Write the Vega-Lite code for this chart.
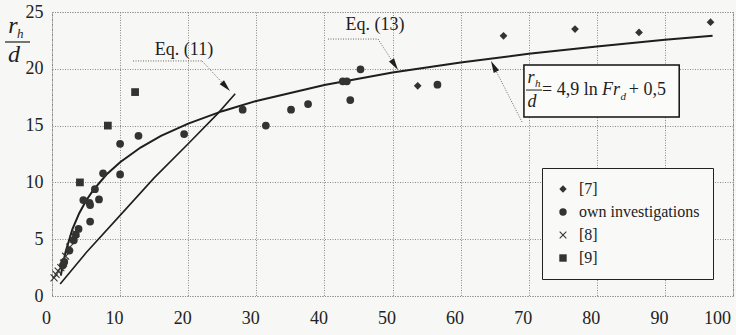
{
  "$schema": "https://vega.github.io/schema/vega-lite/v6.json",
  "width": 681,
  "height": 284,
  "autosize": {"type": "none"},
  "padding": {"left": 52, "top": 12, "right": 3, "bottom": 39},
  "datasets": {
    "points": [
      {"Fr": 53.7, "rh": 18.5, "source": "[7]"},
      {"Fr": 66.3, "rh": 22.9, "source": "[7]"},
      {"Fr": 76.8, "rh": 23.5, "source": "[7]"},
      {"Fr": 86.2, "rh": 23.2, "source": "[7]"},
      {"Fr": 96.7, "rh": 24.1, "source": "[7]"},
      {"Fr": 1.6, "rh": 2.7, "source": "own investigations"},
      {"Fr": 1.8, "rh": 3.0, "source": "own investigations"},
      {"Fr": 2.55, "rh": 4.0, "source": "own investigations"},
      {"Fr": 3.2, "rh": 4.9, "source": "own investigations"},
      {"Fr": 3.5, "rh": 5.4, "source": "own investigations"},
      {"Fr": 3.9, "rh": 5.9, "source": "own investigations"},
      {"Fr": 5.6, "rh": 6.55, "source": "own investigations"},
      {"Fr": 4.6, "rh": 8.45, "source": "own investigations"},
      {"Fr": 5.5, "rh": 8.2, "source": "own investigations"},
      {"Fr": 5.6, "rh": 8.0, "source": "own investigations"},
      {"Fr": 6.9, "rh": 8.5, "source": "own investigations"},
      {"Fr": 6.3, "rh": 9.4, "source": "own investigations"},
      {"Fr": 7.5, "rh": 10.8, "source": "own investigations"},
      {"Fr": 10.0, "rh": 10.7, "source": "own investigations"},
      {"Fr": 10.0, "rh": 13.4, "source": "own investigations"},
      {"Fr": 12.7, "rh": 14.1, "source": "own investigations"},
      {"Fr": 19.4, "rh": 14.25, "source": "own investigations"},
      {"Fr": 28.0, "rh": 16.4, "source": "own investigations"},
      {"Fr": 31.4, "rh": 15.0, "source": "own investigations"},
      {"Fr": 35.1, "rh": 16.4, "source": "own investigations"},
      {"Fr": 37.6, "rh": 16.9, "source": "own investigations"},
      {"Fr": 42.7, "rh": 18.9, "source": "own investigations"},
      {"Fr": 43.3, "rh": 18.9, "source": "own investigations"},
      {"Fr": 43.8, "rh": 17.25, "source": "own investigations"},
      {"Fr": 45.3, "rh": 19.95, "source": "own investigations"},
      {"Fr": 56.6, "rh": 18.6, "source": "own investigations"},
      {"Fr": 0.3, "rh": 1.6, "source": "[8]"},
      {"Fr": 0.6, "rh": 1.9, "source": "[8]"},
      {"Fr": 0.9, "rh": 2.2, "source": "[8]"},
      {"Fr": 1.3, "rh": 2.5, "source": "[8]"},
      {"Fr": 1.7, "rh": 2.9, "source": "[8]"},
      {"Fr": 2.0, "rh": 3.5, "source": "[8]"},
      {"Fr": 2.6, "rh": 4.3, "source": "[8]"},
      {"Fr": 3.1, "rh": 5.0, "source": "[8]"},
      {"Fr": 3.5, "rh": 5.5, "source": "[8]"},
      {"Fr": 4.1, "rh": 10.0, "source": "[9]"},
      {"Fr": 8.2, "rh": 15.0, "source": "[9]"},
      {"Fr": 12.2, "rh": 17.95, "source": "[9]"}
    ],
    "eq13": [
      {"Fr": 1.3, "rh": 1.79}, {"Fr": 1.5, "rh": 2.49}, {"Fr": 2, "rh": 3.9},
      {"Fr": 3, "rh": 5.88}, {"Fr": 4, "rh": 7.29}, {"Fr": 5, "rh": 8.39},
      {"Fr": 6, "rh": 9.28}, {"Fr": 8, "rh": 10.69}, {"Fr": 10, "rh": 11.78},
      {"Fr": 13, "rh": 13.07}, {"Fr": 16, "rh": 14.09}, {"Fr": 20, "rh": 15.18},
      {"Fr": 25, "rh": 16.27}, {"Fr": 30, "rh": 17.17}, {"Fr": 40, "rh": 18.58},
      {"Fr": 50, "rh": 19.67}, {"Fr": 60, "rh": 20.56}, {"Fr": 70, "rh": 21.32},
      {"Fr": 80, "rh": 21.97}, {"Fr": 90, "rh": 22.55}, {"Fr": 97, "rh": 22.92}
    ],
    "eq11": [
      {"Fr": 1.2, "rh": 1.05}, {"Fr": 5, "rh": 3.8}, {"Fr": 10, "rh": 7.1},
      {"Fr": 15, "rh": 10.4}, {"Fr": 20, "rh": 13.4}, {"Fr": 24.4, "rh": 16.1},
      {"Fr": 26.9, "rh": 17.8}
    ],
    "one": [{}]
  },
  "layer": [
    {
      "data": {"name": "eq11"},
      "mark": {"type": "line", "color": "#1e1e1e", "strokeWidth": 1.6},
      "encoding": {
        "x": {"field": "Fr", "type": "quantitative",
              "scale": {"domain": [0, 100], "nice": false, "zero": false},
              "axis": {"title": null, "values": [0,10,20,30,40,50,60,70,80,90,100], "labelPadding": 13, "labelFlush": false, "labelFontSize": 18,
                       "labelOffset": {"condition": {"test": "datum.value == 100", "value": -16}, "value": -6}}},
        "y": {"field": "rh", "type": "quantitative",
              "scale": {"domain": [0, 25], "nice": false, "zero": false},
              "axis": {"title": null, "values": [0,5,10,15,20,25], "labelPadding": 9, "labelFontSize": 18}}
      }
    },
    {
      "data": {"name": "eq13"},
      "mark": {"type": "line", "color": "#1e1e1e", "strokeWidth": 2},
      "encoding": {
        "x": {"field": "Fr", "type": "quantitative"},
        "y": {"field": "rh", "type": "quantitative"}
      }
    },
    {
      "data": {"name": "points"},
      "mark": {"type": "point", "filled": true, "color": "#333333", "opacity": 1, "size": 60},
      "encoding": {
        "x": {"field": "Fr", "type": "quantitative"},
        "y": {"field": "rh", "type": "quantitative"},
        "shape": {"field": "source", "type": "nominal",
                  "scale": {"domain": ["[7]", "own investigations", "[8]", "[9]"],
                            "range": ["diamond", "circle", "M-1,-0.8L-0.8,-1L0,-0.2L0.8,-1L1,-0.8L0.2,0L1,0.8L0.8,1L0,0.2L-0.8,1L-1,0.8L-0.2,0Z", "square"]},
                  "legend": {"title": null, "orient": "none", "legendX": 490, "legendY": 156,
                             "fillColor": "#f9f9f8", "strokeColor": "#222222", "padding": 13,
                             "rowPadding": 7, "labelFont": "Liberation Serif", "labelFontSize": 16,
                             "labelColor": "#222222", "symbolSize": 55, "labelOffset": 8}}
      }
    },
    {
      "data": {"name": "one"},
      "mark": {"type": "rule", "color": "#666666", "strokeWidth": 1, "strokeDash": [1, 1.5]},
      "encoding": {"x": {"datum": 11.9}, "x2": {"datum": 22.03}, "y": {"datum": 20.69}, "y2": {"datum": 20.69}}
    },
    {
      "data": {"name": "one"},
      "mark": {"type": "rule", "color": "#666666", "strokeWidth": 1, "strokeDash": [1, 1.5]},
      "encoding": {"x": {"datum": 22.03}, "x2": {"datum": 24.93}, "y": {"datum": 20.69}, "y2": {"datum": 18.82}}
    },
    {
      "data": {"name": "one"},
      "mark": {"type": "rule", "color": "#666666", "strokeWidth": 1, "strokeDash": [1, 1.5]},
      "encoding": {"x": {"datum": 40.53}, "x2": {"datum": 47.87}, "y": {"datum": 22.62}, "y2": {"datum": 22.62}}
    },
    {
      "data": {"name": "one"},
      "mark": {"type": "rule", "color": "#666666", "strokeWidth": 1, "strokeDash": [1, 1.5]},
      "encoding": {"x": {"datum": 47.87}, "x2": {"datum": 49.85}, "y": {"datum": 22.62}, "y2": {"datum": 20.78}}
    },
    {
      "data": {"name": "one"},
      "mark": {"type": "rule", "color": "#666666", "strokeWidth": 1, "strokeDash": [1, 1.5]},
      "encoding": {"x": {"datum": 69.02}, "x2": {"datum": 65.26}, "y": {"datum": 15.32}, "y2": {"datum": 19.75}}
    },
    {
      "data": {"name": "one"},
      "mark": {"type": "point", "filled": true, "color": "#1e1e1e", "opacity": 1, "size": 144, "angle": 47, "shape": "M-2,-0.5L0,0L-2,0.5Z"},
      "encoding": {"x": {"datum": 26.14}, "y": {"datum": 18.05}}
    },
    {
      "data": {"name": "one"},
      "mark": {"type": "point", "filled": true, "color": "#1e1e1e", "opacity": 1, "size": 144, "angle": 57, "shape": "M-2,-0.5L0,0L-2,0.5Z"},
      "encoding": {"x": {"datum": 50.81}, "y": {"datum": 19.89}}
    },
    {
      "data": {"name": "one"},
      "mark": {"type": "point", "filled": true, "color": "#1e1e1e", "opacity": 1, "size": 144, "angle": 243, "shape": "M-2,-0.5L0,0L-2,0.5Z"},
      "encoding": {"x": {"datum": 64.46}, "y": {"datum": 20.69}}
    },
    {
      "data": {"name": "one"},
      "mark": {"type": "text", "text": "Eq. (11)", "font": "Liberation Serif", "fontSize": 18, "color": "#1e1e1e", "align": "center", "baseline": "alphabetic"},
      "encoding": {"x": {"datum": 19.38}, "y": {"datum": 21.21}}
    },
    {
      "data": {"name": "one"},
      "mark": {"type": "text", "text": "Eq. (13)", "font": "Liberation Serif", "fontSize": 18, "color": "#1e1e1e", "align": "center", "baseline": "alphabetic"},
      "encoding": {"x": {"datum": 47.43}, "y": {"datum": 23.42}}
    },
    {
      "data": {"name": "one"},
      "mark": {"type": "rect", "fill": "#fbfbfa", "stroke": "#111111", "strokeWidth": 1.5},
      "encoding": {"x": {"datum": 69.3}, "x2": {"datum": 92.1}, "y": {"datum": 20.33}, "y2": {"datum": 15.76}}
    },
    {
      "data": {"name": "one"},
      "mark": {"type": "text", "text": "r", "font": "Liberation Serif", "fontStyle": "italic", "fontSize": 18, "color": "#1e1e1e", "align": "center", "baseline": "alphabetic"},
      "encoding": {"x": {"datum": 70.34}, "y": {"datum": 18.75}}
    },
    {
      "data": {"name": "one"},
      "mark": {"type": "text", "text": "h", "font": "Liberation Serif", "fontStyle": "italic", "fontSize": 11, "color": "#1e1e1e", "align": "left", "baseline": "alphabetic"},
      "encoding": {"x": {"datum": 70.93}, "y": {"datum": 18.4}}
    },
    {
      "data": {"name": "one"},
      "mark": {"type": "rule", "color": "#1e1e1e", "strokeWidth": 1},
      "encoding": {"x": {"datum": 69.6}, "x2": {"datum": 71.95}, "y": {"datum": 18.13}, "y2": {"datum": 18.13}}
    },
    {
      "data": {"name": "one"},
      "mark": {"type": "text", "text": "d", "font": "Liberation Serif", "fontStyle": "italic", "fontSize": 18, "color": "#1e1e1e", "align": "center", "baseline": "alphabetic"},
      "encoding": {"x": {"datum": 70.48}, "y": {"datum": 16.64}}
    },
    {
      "data": {"name": "one"},
      "mark": {"type": "text", "text": "= 4,9 ln", "font": "Liberation Serif", "fontSize": 18, "color": "#1e1e1e", "align": "left", "baseline": "alphabetic"},
      "encoding": {"x": {"datum": 71.95}, "y": {"datum": 17.69}}
    },
    {
      "data": {"name": "one"},
      "mark": {"type": "text", "text": "Fr", "font": "Liberation Serif", "fontStyle": "italic", "fontSize": 18, "color": "#1e1e1e", "align": "left", "baseline": "alphabetic"},
      "encoding": {"x": {"datum": 80.76}, "y": {"datum": 17.69}}
    },
    {
      "data": {"name": "one"},
      "mark": {"type": "text", "text": "d", "font": "Liberation Serif", "fontStyle": "italic", "fontSize": 11, "color": "#1e1e1e", "align": "left", "baseline": "alphabetic"},
      "encoding": {"x": {"datum": 83.48}, "y": {"datum": 17.25}}
    },
    {
      "data": {"name": "one"},
      "mark": {"type": "text", "text": "+ 0,5", "font": "Liberation Serif", "fontSize": 18, "color": "#1e1e1e", "align": "left", "baseline": "alphabetic"},
      "encoding": {"x": {"datum": 84.7}, "y": {"datum": 17.69}}
    },
    {
      "data": {"name": "one"},
      "mark": {"type": "text", "text": "r", "font": "Liberation Serif", "fontStyle": "italic", "fontSize": 24, "color": "#1e1e1e", "align": "center", "baseline": "alphabetic"},
      "encoding": {"x": {"datum": -5.73}, "y": {"datum": 23.15}}
    },
    {
      "data": {"name": "one"},
      "mark": {"type": "text", "text": "h", "font": "Liberation Serif", "fontStyle": "italic", "fontSize": 13, "color": "#1e1e1e", "align": "left", "baseline": "alphabetic"},
      "encoding": {"x": {"datum": -5.14}, "y": {"datum": 22.71}}
    },
    {
      "data": {"name": "one"},
      "mark": {"type": "rule", "color": "#1e1e1e", "strokeWidth": 1.2},
      "encoding": {"x": {"datum": -6.9}, "x2": {"datum": -3.23}, "y": {"datum": 22.36}, "y2": {"datum": 22.36}}
    },
    {
      "data": {"name": "one"},
      "mark": {"type": "text", "text": "d", "font": "Liberation Serif", "fontStyle": "italic", "fontSize": 24, "color": "#1e1e1e", "align": "center", "baseline": "alphabetic"},
      "encoding": {"x": {"datum": -5.58}, "y": {"datum": 20.6}}
    }
  ],
  "config": {
    "background": "#f7f7f5",
    "font": "Liberation Serif",
    "style": {"guide-label": {"font": "Liberation Serif"}},
    "view": {"stroke": "#8a8a8a", "strokeDash": [1, 1.5], "strokeWidth": 1},
    "axis": {
      "grid": true, "gridColor": "#8a8a8a", "gridDash": [1, 1.5], "gridWidth": 1,
      "ticks": false, "domain": false,
      "labelFont": "Liberation Serif", "labelFontSize": 17, "labelColor": "#222222"
    },
    "legend": {"labelFont": "Liberation Serif"}
  }
}
